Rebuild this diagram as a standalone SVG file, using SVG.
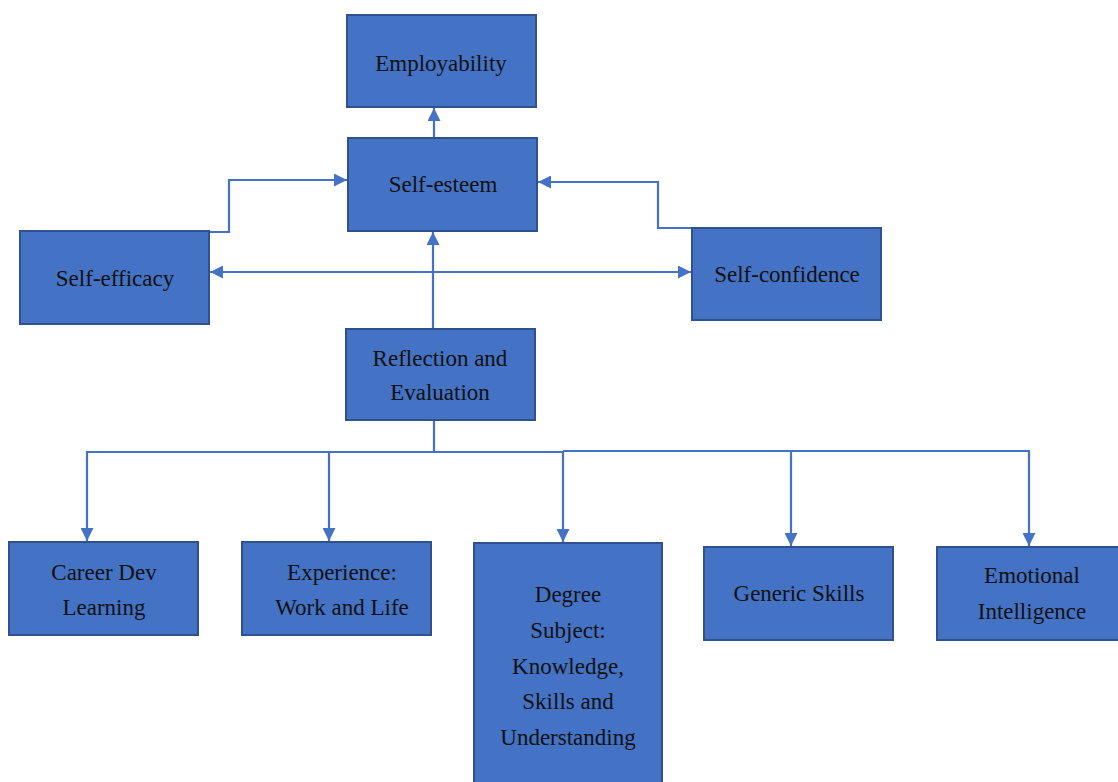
<svg xmlns="http://www.w3.org/2000/svg" width="1118" height="782" viewBox="0 0 1118 782">
<style>
.box{fill:#4472C4;stroke:#2F528F;stroke-width:2}
.lbl{font-family:"Liberation Serif","Times New Roman",serif;font-size:23px;fill:#111;text-anchor:middle}
.con{fill:none;stroke:#4472C4;stroke-width:2.2}
</style>
<defs>
<marker id="ah" markerUnits="userSpaceOnUse" viewBox="0 0 13 13" markerWidth="13" markerHeight="13" refX="13" refY="6.5" orient="auto-start-reverse">
<path d="M0,0 L13,6.5 L0,13 z" fill="#4472C4"/>
</marker>
</defs>
<rect width="1118" height="782" fill="#fff"/>
<g id="connectors">
<path class="con" d="M434,138 V108" marker-end="url(#ah)"/>
<path class="con" d="M433,329 V232" marker-end="url(#ah)"/>
<path class="con" d="M209,232 H229 V180 H347" marker-end="url(#ah)"/>
<path class="con" d="M692,228 H658 V182 H538" marker-end="url(#ah)"/>
<path class="con" d="M210,272 H691" marker-start="url(#ah)" marker-end="url(#ah)"/>
<path class="con" d="M434,420 V452 H87 V541" marker-end="url(#ah)"/>
<path class="con" d="M434,452 H329 V541" marker-end="url(#ah)"/>
<path class="con" d="M434,452 H563 V542" marker-end="url(#ah)"/>
<path class="con" d="M563,451 H791 V546" marker-end="url(#ah)"/>
<path class="con" d="M791,451 H1029 V546" marker-end="url(#ah)"/>
</g>
<g id="employability">
<rect class="box" x="347" y="15" width="189" height="92"/>
<text class="lbl" x="441" y="71">Employability</text>
</g>
<g id="self-esteem">
<rect class="box" x="348" y="138" width="189" height="93"/>
<text class="lbl" x="443" y="192">Self-esteem</text>
</g>
<g id="self-efficacy">
<rect class="box" x="20" y="231" width="189" height="93"/>
<text class="lbl" x="115" y="286">Self-efficacy</text>
</g>
<g id="self-confidence">
<rect class="box" x="692" y="228" width="189" height="92"/>
<text class="lbl" x="787" y="282">Self-confidence</text>
</g>
<g id="reflection">
<rect class="box" x="346" y="329" width="189" height="91"/>
<text class="lbl" x="440" y="366">Reflection and</text>
<text class="lbl" x="440" y="400">Evaluation</text>
</g>
<g id="career-dev">
<rect class="box" x="9" y="542" width="189" height="93"/>
<text class="lbl" x="104" y="580">Career Dev</text>
<text class="lbl" x="104" y="615">Learning</text>
</g>
<g id="experience">
<rect class="box" x="242" y="542" width="189" height="93"/>
<text class="lbl" x="342" y="580">Experience:</text>
<text class="lbl" x="342" y="615">Work and Life</text>
</g>
<g id="degree">
<rect class="box" x="474" y="543" width="188" height="250"/>
<text class="lbl" x="568" y="602">Degree</text>
<text class="lbl" x="568" y="638">Subject:</text>
<text class="lbl" x="568" y="674">Knowledge,</text>
<text class="lbl" x="568" y="709">Skills and</text>
<text class="lbl" x="568" y="745">Understanding</text>
</g>
<g id="generic-skills">
<rect class="box" x="704" y="547" width="189" height="93"/>
<text class="lbl" x="799" y="601">Generic Skills</text>
</g>
<g id="emotional-intelligence">
<rect class="box" x="937" y="547" width="190" height="93"/>
<text class="lbl" x="1032" y="583">Emotional</text>
<text class="lbl" x="1032" y="619">Intelligence</text>
</g>
</svg>
